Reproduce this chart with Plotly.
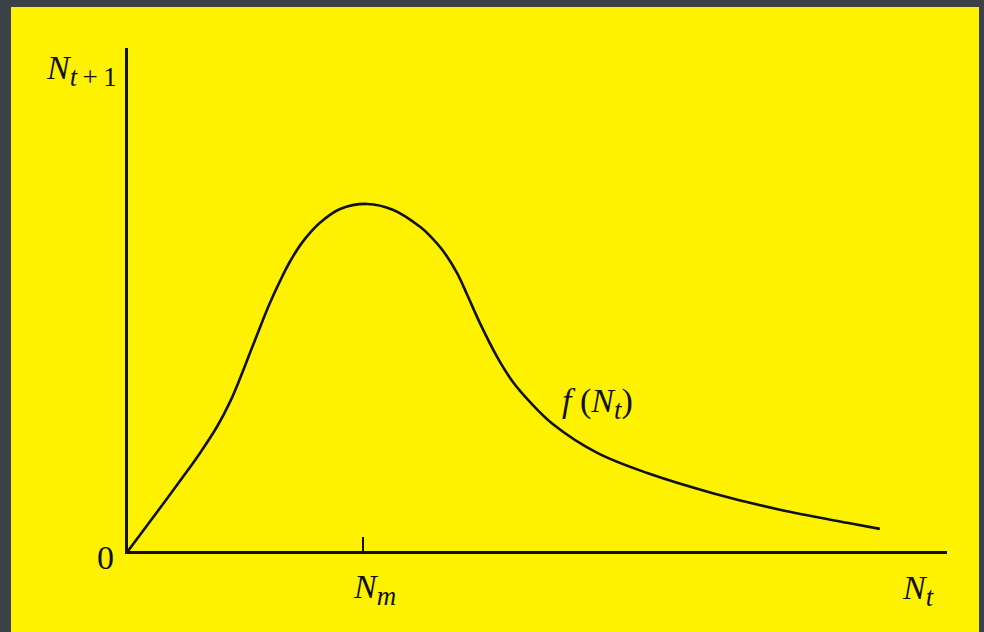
import plotly.graph_objects as go

# Map f(N_t): population next step versus current population
n_t = [0.00, 0.33, 0.67, 0.88, 1.09, 1.25, 1.37, 1.49, 1.61, 1.73, 1.86, 1.98,
       2.13, 2.34, 2.59, 2.92, 3.24, 3.57, 3.69, 3.85, 4.02, 4.14, 4.30, 4.51,
       4.70, 4.91, 5.19, 5.73, 6.34, 7.14, 7.96, 8.78, 9.18]
n_next = [0.00, 0.72, 1.47, 1.95, 2.48, 2.98, 3.44, 3.94, 4.44, 4.92, 5.38, 5.76,
          6.14, 6.52, 6.80, 6.90, 6.78, 6.44, 6.26, 5.96, 5.52, 5.10, 4.52, 3.85,
          3.36, 2.96, 2.52, 1.95, 1.55, 1.15, 0.82, 0.56, 0.44]
n_m = 2.87
x_tick_vals = [n_m]

SERIF = "Liberation Serif, Times New Roman, serif"
INK = "#111111"
YELLOW = "#fff200"
MAIN_SIZE = 34
SUB_SIZE = 27
THIN = "\u2009"


def sub(s):
    return f"<sub><span style='font-size:{SUB_SIZE}px'>{s}</span></sub>"


W, H = 984, 632
L, R, T, B = 128, 37, 48, 81
pw, ph = W - L - R, H - T - B


def px_to_paper(px, py):
    return (px - L) / pw, (H - B - py) / ph


fig = go.Figure()
fig.add_trace(go.Scatter(
    x=n_t, y=n_next, mode="lines",
    line=dict(color=INK, width=2.6, shape="spline", smoothing=1.0),
    hoverinfo="skip", showlegend=False,
))

# yellow panel behind the axes
x0, y0 = px_to_paper(11, 632)
x1, y1 = px_to_paper(979, 7)
fig.add_shape(type="rect", xref="paper", yref="paper", x0=x0, x1=x1, y0=y0, y1=y1,
              fillcolor=YELLOW, line=dict(width=0), layer="below")

annotations = [
    ("<i>N</i>" + sub("<i>t</i>" + THIN + "+" + THIN + "1"), 44, 70, "left"),
    ("0", 105, 557, "center"),
    ("<i>N</i>" + sub("<i>t</i>"), 918, 590, "center"),
    ("<i>f</i> (<i>N</i>" + sub("<i>t</i>") + ")", 597, 403, "center"),
]
for text, ax, ay, anchor in annotations:
    xp, yp = px_to_paper(ax, ay)
    fig.add_annotation(text=text, xref="paper", yref="paper", x=xp, y=yp,
                       xanchor=anchor, yanchor="middle", showarrow=False,
                       font=dict(family=SERIF, size=MAIN_SIZE, color=INK))

# label for the peak position, placed under its tick mark
_, y_lab = px_to_paper(0, 589)
fig.add_annotation(text="<i>N</i>" + sub("<i>m</i>"), xref="x", yref="paper",
                   x=n_m, y=y_lab, xshift=11, xanchor="center", yanchor="middle",
                   showarrow=False, font=dict(family=SERIF, size=MAIN_SIZE, color=INK))

fig.update_layout(
    width=W, height=H,
    margin=dict(l=L, r=R, t=T, b=B, pad=0),
    paper_bgcolor="#3a4147",
    plot_bgcolor="rgba(0,0,0,0)",
    font=dict(family=SERIF, size=MAIN_SIZE, color=INK),
)
fig.update_xaxes(range=[0, 10], showgrid=False, zeroline=False,
                 showline=True, linecolor=INK, linewidth=2.6,
                 tickvals=x_tick_vals, showticklabels=False,
                 ticks="inside", ticklen=14, tickwidth=1.5, tickcolor=INK)
fig.update_yaxes(range=[0, 10], showgrid=False, zeroline=False,
                 showline=True, linecolor=INK, linewidth=2.6,
                 showticklabels=False, ticks="")

fig.write_html("out.html")
